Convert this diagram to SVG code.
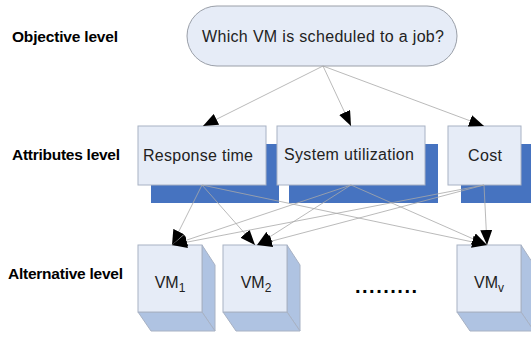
<svg xmlns="http://www.w3.org/2000/svg" width="531" height="338" viewBox="0 0 531 338">
  <style>
    .lvl { font-family: "Liberation Sans", Arial, sans-serif; font-weight: bold; font-size: 15.5px; fill: #000; }
    .txt { font-family: "Liberation Sans", Arial, sans-serif; font-size: 16px; fill: #222; }
    .box { fill: #E6ECF7; stroke: #A8B2C4; stroke-width: 1; }
    .shadow { fill: #4673C0; }
    .front { fill: #E6ECF7; stroke: #A8B2C4; stroke-width: 1; }
    .side { fill: #AFC3E2; stroke: #A8B2C4; stroke-width: 1; }
    .conn { stroke: #A8A8A8; stroke-width: 0.8; fill: none; marker-end: url(#arrow); }
  </style>
  <defs>
    <marker id="arrow" markerUnits="userSpaceOnUse" markerWidth="15" markerHeight="12" refX="15" refY="6" orient="auto">
      <path d="M0,0 L15,6 L0,12 z" fill="#000"/>
    </marker>
  </defs>
  <rect width="531" height="338" fill="#fff"/>

  <!-- level labels -->
  <text class="lvl" x="12" y="42" textLength="106">Objective level</text>
  <text class="lvl" x="12" y="160" textLength="108">Attributes level</text>
  <text class="lvl" x="8" y="279" textLength="115">Alternative level</text>

  <!-- objective node -->
  <g id="objective">
    <rect x="187" y="6" width="270" height="60" rx="30" ry="30" fill="#E6ECF7" stroke="#9A9FA8" stroke-width="1"/>
    <text class="txt" x="323" y="42" text-anchor="middle" font-size="16.5" textLength="242">Which VM is scheduled to a job?</text>
  </g>

  <!-- attribute nodes -->
  <g id="response-time">
    <rect class="shadow" x="151" y="144" width="128" height="59"/>
    <rect class="box" x="138" y="126" width="128" height="59"/>
    <text class="txt" x="198" y="161" text-anchor="middle" textLength="110">Response time</text>
  </g>
  <g id="system-utilization">
    <rect class="shadow" x="289" y="144" width="149" height="59"/>
    <rect class="box" x="277" y="126" width="148" height="59"/>
    <text class="txt" x="349" y="160" text-anchor="middle" textLength="130">System utilization</text>
  </g>
  <g id="cost">
    <rect class="shadow" x="461" y="144" width="80" height="59"/>
    <rect class="box" x="448" y="126" width="73" height="59"/>
    <text class="txt" x="485" y="161" text-anchor="middle" textLength="34">Cost</text>
  </g>

  <!-- alternative nodes -->
  <g id="vm1">
    <polygon class="side" points="202,245 215,265 215,331 202,312"/>
    <polygon class="side" points="138,312 202,312 215,331 151,331"/>
    <rect class="front" x="138" y="245" width="64" height="67"/>
    <text class="txt" x="170" y="288" text-anchor="middle">VM<tspan font-size="12" dy="4">1</tspan></text>
  </g>
  <g id="vm2">
    <polygon class="side" points="287,245 300,265 300,331 287,312"/>
    <polygon class="side" points="223,312 287,312 300,331 236,331"/>
    <rect class="front" x="223" y="245" width="64" height="67"/>
    <text class="txt" x="256" y="288" text-anchor="middle">VM<tspan font-size="12" dy="4">2</tspan></text>
  </g>
  <g id="vmv">
    <polygon class="side" points="521,245 534,265 534,331 521,312"/>
    <polygon class="side" points="457,312 521,312 534,331 470,331"/>
    <rect class="front" x="457" y="245" width="64" height="67"/>
    <text class="txt" x="489" y="288" text-anchor="middle">VM<tspan font-size="12" dy="4">v</tspan></text>
  </g>

  <text x="355" y="293" font-family="Liberation Sans, Arial, sans-serif" font-weight="bold" font-size="20" letter-spacing="1.5" fill="#000">.........</text>

  <!-- connectors -->
  <g id="connectors">
    <line class="conn" x1="323" y1="66" x2="203" y2="126"/>
    <line class="conn" x1="323" y1="66" x2="351" y2="126"/>
    <line class="conn" x1="323" y1="66" x2="484" y2="126"/>

    <line class="conn" x1="202" y1="185" x2="172" y2="245"/>
    <line class="conn" x1="202" y1="185" x2="255" y2="245"/>
    <line class="conn" x1="202" y1="185" x2="487" y2="245"/>

    <line class="conn" x1="351" y1="185" x2="172" y2="245"/>
    <line class="conn" x1="351" y1="185" x2="257" y2="245"/>
    <line class="conn" x1="351" y1="185" x2="487" y2="245"/>

    <line class="conn" x1="484" y1="185" x2="172" y2="245"/>
    <line class="conn" x1="484" y1="185" x2="257" y2="245"/>
    <line class="conn" x1="484" y1="185" x2="487" y2="245"/>
  </g>
</svg>
